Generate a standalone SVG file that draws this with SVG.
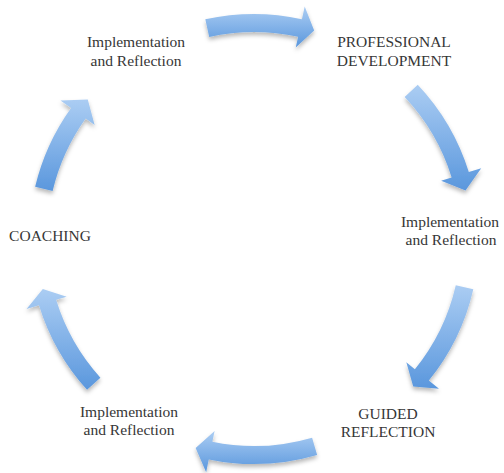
<svg xmlns="http://www.w3.org/2000/svg" width="504" height="473" viewBox="0 0 504 473">
<style>
.lbl{font-family:"Liberation Serif","Times New Roman",serif;font-size:15.5px;fill:#363636;text-anchor:middle}
.arr{fill:url(#g);filter:url(#sh)}
</style>
<defs>
<linearGradient id="g" x1="0" y1="0" x2="0" y2="1">
<stop offset="0" stop-color="#abcdf3"/>
<stop offset="1" stop-color="#5a97dd"/>
</linearGradient>
<filter id="sh" x="-20%" y="-20%" width="140%" height="150%">
<feDropShadow dx="0" dy="3" stdDeviation="2" flood-color="#000" flood-opacity="0.28"/>
</filter>
</defs>
<rect width="504" height="473" fill="#fff"/>
<g id="connectors">
<path class="arr" d="M205.30,19.33 A225,225 0 0 1 301.93,19.16 L304.70,6.46 L314.18,30.51 L295.75,47.50 L298.10,36.75 A207,207 0 0 0 209.20,36.91 Z"/>
<path class="arr" d="M417.75,84.69 A225,225 0 0 1 468.82,172.09 L481.23,168.23 L465.52,190.55 L441.13,180.72 L451.64,177.44 A207,207 0 0 0 404.65,97.04 Z"/>
<path class="arr" d="M473.32,289.23 A225,225 0 0 1 428.86,380.60 L438.96,388.78 L413.22,386.44 L406.32,362.35 L414.87,369.27 A207,207 0 0 0 455.78,285.21 Z"/>
<path class="arr" d="M317.15,454.96 A225,225 0 0 1 208.76,459.41 L206.14,472.14 L195.64,448.01 L214.59,431.00 L212.38,441.77 A207,207 0 0 0 312.10,437.68 Z"/>
<path class="arr" d="M87.05,389.85 A225,225 0 0 1 38.95,305.16 L26.52,308.98 L42.82,288.92 L66.67,296.63 L56.15,299.87 A207,207 0 0 0 100.41,377.78 Z"/>
<path class="arr" d="M35.12,186.86 A225,225 0 0 1 71.05,108.02 L60.48,100.46 L87.77,99.51 L94.63,124.90 L85.69,118.50 A207,207 0 0 0 52.63,191.03 Z"/>
</g>
<g id="node-pd"><text class="lbl" x="394" y="47">PROFESSIONAL</text><text class="lbl" x="394" y="65.5">DEVELOPMENT</text></g>
<g id="node-ir1"><text class="lbl" x="450" y="227">Implementation</text><text class="lbl" x="451" y="245">and Reflection</text></g>
<g id="node-gr"><text class="lbl" x="388" y="419">GUIDED</text><text class="lbl" x="388" y="437">REFLECTION</text></g>
<g id="node-ir2"><text class="lbl" x="129" y="417">Implementation</text><text class="lbl" x="129" y="435">and Reflection</text></g>
<g id="node-coaching"><text class="lbl" x="50" y="241">COACHING</text></g>
<g id="node-ir3"><text class="lbl" x="136" y="47">Implementation</text><text class="lbl" x="136" y="65.5">and Reflection</text></g>
</svg>
